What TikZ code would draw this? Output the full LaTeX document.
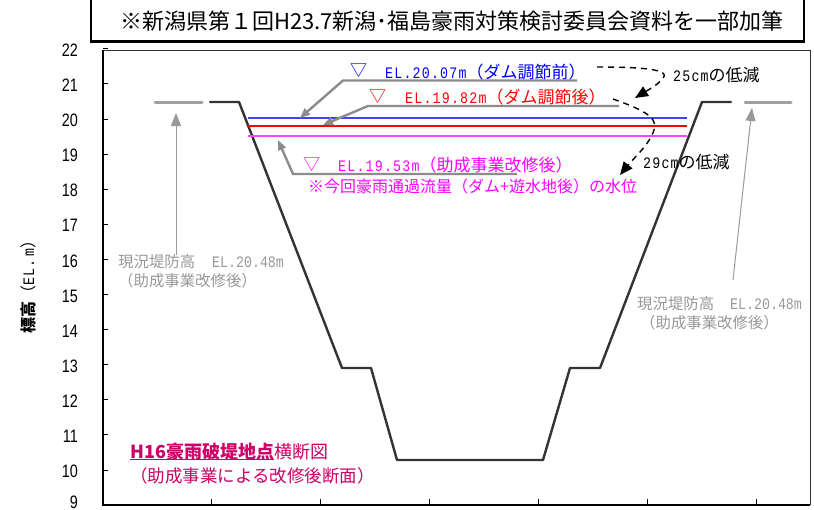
\documentclass[tikz,border=0pt]{standalone}
\usepackage{fontspec}
\usetikzlibrary{arrows.meta}
\setmainfont{Noto Sans CJK JP}
\newfontfamily\narrowlat[FakeStretch=0.8]{Liberation Sans}
\newfontfamily\monolat[FakeStretch=0.83]{Liberation Mono}
\newfontfamily\monowide[FakeStretch=0.83,LetterSpace=7.5]{Liberation Mono}
\definecolor{dkgr}{HTML}{333333}
\definecolor{stub}{HTML}{A0A0A0}
\definecolor{lead}{HTML}{8C8C8C}
\definecolor{lblgr}{HTML}{999999}
\definecolor{levblue}{HTML}{4040FF}
\definecolor{levred}{HTML}{FF0000}
\definecolor{levmag}{HTML}{FF40FF}
\definecolor{bl}{HTML}{0000FF}
\definecolor{rd}{HTML}{FF0000}
\definecolor{mg}{HTML}{FF00FF}
\definecolor{crim}{HTML}{CC0066}
\tikzset{
 x=1pt,y=-1pt,
 lab/.style={inner sep=0pt,anchor=west,font=\fontsize{17}{17}\selectfont},
 grlab/.style={inner sep=0pt,anchor=west,text=lblgr,font=\fontsize{15.4}{15}\selectfont},
 caplab/.style={inner sep=0pt,anchor=west,text=crim,font=\fontsize{17.5}{17}\selectfont},
 ylab/.style={inner sep=0pt,anchor=east,font=\narrowlat\fontsize{18}{18}\selectfont},
 lev/.style={line width=1.5pt},
 leader/.style={draw=lead,line width=2.4pt,-{Triangle[length=10pt,width=8pt]}},
 thin arrow/.style={draw=lblgr,line width=1pt,-{Triangle[length=13pt,width=10pt]}},
 stubline/.style={draw=stub,line width=3pt,line cap=round},
 dsh/.style={draw=black,line width=1.4pt,dash pattern=on 6pt off 5pt,-{Triangle[length=13pt,width=11pt]}},
 tick/.style={draw=black,line width=1pt},
}
\newcommand{\lat}[1]{{\monolat\fontsize{16}{16}\selectfont #1}}
\newcommand{\latw}[1]{{\monowide\fontsize{16}{16}\selectfont #1}}
\begin{document}
\begin{tikzpicture}
\useasboundingbox (0,0) rectangle (814,509);
\fill[white] (0,0) rectangle (814,509);
% title box
\draw[black,line width=2.2pt] (91,-5) -- (91,41.5) -- (804,41.5) -- (804,-5);
\node[inner sep=0pt,anchor=center,font=\fontsize{22}{24}\selectfont] (title) at (452,21) {※新潟県第１回H23.7新潟･福島豪雨対策検討委員会資料を一部加筆};
% plot frame
\draw[dkgr,line width=1pt] (103,50) -- (810,50) -- (810,505);
\draw[black,line width=1.2pt] (103,50) -- (103,505) -- (810,505);
\foreach \v in {10,...,22}{
  \pgfmathsetmacro{\yy}{119+35.1*(20-\v)}
  \draw[tick] (103,\yy) -- (108,\yy);
  \node[ylab] (y\v) at (78,\yy+1.5) {\v};
}
\node[ylab] (y9) at (78,502) {9};
\foreach \xx in {211,320,429,538,647,756}{ \draw[tick] (\xx,505) -- (\xx,499); }
\node[rotate=90,inner sep=0pt,font=\fontsize{16}{16}\selectfont] (ytitle) at (28,283) {\textbf{標高}（\latw{EL.\,m}）};
% section
\draw[dkgr,line width=2.4pt,line cap=round,line join=round] (210,102) -- (239,102) -- (342,368) -- (371,368) -- (397,460) -- (543,460) -- (570,368) -- (600,368) -- (702,102) -- (731,102);
\draw[stubline] (155,102) -- (202,102);
\draw[stubline] (745,102) -- (791,102);
% water levels
\draw[draw=levblue,lev] (248,118) -- (687,118);
\draw[draw=levred,lev] (248,126) -- (687,126);
\draw[draw=levmag,lev] (248,136) -- (687,136);
% level labels
\node[lab,text=bl] (tb) at (350,71) {▽};
\node[lab,text=bl] (lb) at (385,72) {\latw{EL.20.07m}（ダム調節前）};
\node[lab,text=rd] (tr) at (369,97) {▽};
\node[lab,text=rd] (lr) at (405,97) {\latw{EL.19.82m}（ダム調節後）};
\node[lab,text=mg] (tm) at (303,165) {▽};
\node[lab,text=mg] (lm) at (338,165) {\latw{EL.19.53m}（助成事業改修後）};
\node[lab,text=mg,font=\fontsize{16}{16}\selectfont] (ln) at (308,186) {※今回豪雨通過流量（ダム+遊水地後）の水位};
% leaders
\coordinate (a0) at (577,80.5); \coordinate (a1) at (343,80.5); \coordinate (a2) at (300,118);
\coordinate (b0) at (619,106); \coordinate (b1) at (368,106); \coordinate (b2) at (323,125);
\coordinate (c0) at (517,174); \coordinate (c1) at (293,174); \coordinate (c2) at (278,140);
\draw[leader] (a0) -- (a1) -- (a2);
\draw[leader] (b0) -- (b1) -- (b2);
\draw[leader] (c0) -- (c1) -- (c2);
% reduction
\coordinate (d0) at (597,67); \coordinate (d1) at (635,98);
\coordinate (e0) at (613,99); \coordinate (e1) at (620,175);
\draw[dsh] (d0) .. controls (630,67) and (672,68) .. (663,78) .. controls (658,85) and (648,90) .. (d1);
\draw[dsh] (e0) .. controls (635,107) and (660,116) .. (654,130) .. controls (650,144) and (632,160) .. (e1);
\node[lab] (r1) at (673,75) {\latw{25cm}の低減};
\node[lab] (r2) at (643,162) {\latw{29cm}の低減};
% levee labels
\coordinate (f0) at (176,255); \coordinate (f1) at (176,113);
\coordinate (g0) at (733,280); \coordinate (g1) at (752,108);
\draw[thin arrow] (f0) -- (f1);
\draw[thin arrow] (g0) -- (g1);
\node[grlab] (l1) at (118,262) {現況堤防高\hspace{17pt}\lat{EL.20.48m}};
\node[grlab] (l2) at (118,281) {（助成事業改修後）};
\node[grlab] (l3) at (637,304) {現況堤防高\hspace{16pt}\lat{EL.20.48m}};
\node[grlab] (l4) at (640,323) {（助成事業改修後）};
% caption
\node[caplab,anchor=base west,font=\fontsize{18}{18}\selectfont] (cap1) at (130,458) {\underline{\smash{\textbf{H16豪雨破堤地点}}}横断図};
\node[caplab] (cap2) at (130,476) {（助成事業による改修後断面）};
\end{tikzpicture}
\end{document}
